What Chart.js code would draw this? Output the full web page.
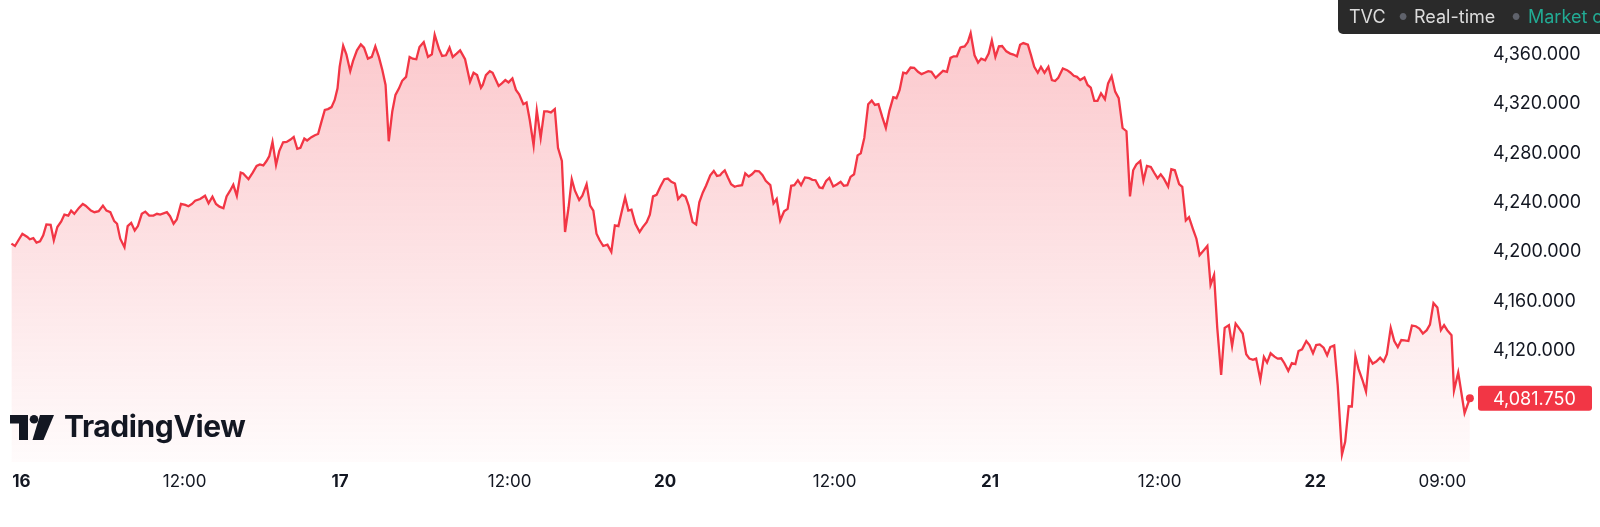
<!DOCTYPE html>
<html>
<head>
<meta charset="utf-8">
<script src="https://cdn.jsdelivr.net/npm/chart.js@4/dist/chart.umd.min.js"></script>
<style>
html,body{margin:0;padding:0;background:#fff;}
#wrap{position:relative;width:1600px;height:527px;overflow:hidden;background:#fff;}
canvas{display:block;}
#badge{position:absolute;left:1338px;top:0;width:300px;height:34px;background:#2a2a2a;border-bottom-left-radius:5px;font-family:Inter,"Noto Sans",sans-serif;font-size:18px;color:#dcdcdc;white-space:nowrap;}
#badge span{position:absolute;top:0;line-height:33px;}
#badge .sep{color:#5f626b;font-size:9px;}
#badge .green{color:#22ab94;}
#logo{position:absolute;left:10px;top:415px;height:25px;}
#logo svg{position:absolute;left:0;top:0;}
#logo span{position:absolute;left:54px;top:-9px;font-family:Inter,"Noto Sans",sans-serif;font-weight:700;font-size:30px;line-height:40px;color:#131722;letter-spacing:-0.4px;white-space:nowrap;}
</style>
</head>
<body>
<div id="wrap">
<canvas id="c" width="1600" height="527"></canvas>
<div id="badge">
  <span style="left:11px">TVC</span>
  <span class="sep" style="left:61px">●</span>
  <span style="left:76px">Real-time</span>
  <span class="sep" style="left:174px">●</span>
  <span class="green" style="left:190px">Market closed</span>
</div>
<div id="logo">
  <svg width="46" height="25" viewBox="0 0 46 25">
    <path d="M0 0H18V25H9V8.5H0Z" fill="#131722"/>
    <circle cx="24" cy="4.3" r="4.3" fill="#131722"/>
    <path d="M30 0H44L33.5 25H22.5Z" fill="#131722"/>
  </svg>
  <span>TradingView</span>
</div>
</div>
<script>
// Time position of each vertex, in 15-minute trading bars counted from 16 Oct 00:00
const bars = [
-1.0,0.0,2.1,3.5,4.2,5.2,6.1,7.1,8.0,8.9,10.1,11.0,12.0,13.1,14.0,15.1,15.9,16.8,18.1,19.2,20.0,21.5,22.5,23.7,24.9,25.9,27.0,28.1,28.9,29.8,31.0,31.9,32.9,33.9,34.8,35.9,36.9,38.0,39.2,40.2,41.1,43.0,43.9,44.9,45.8,47.0,48.2,49.1,50.1,51.0,52.4,53.8,54.8,55.9,56.9,57.9,59.0,59.9,60.9,61.8,62.8,63.9,
64.6,66.1,67.3,68.4,69.3,70.3,71.2,72.0,72.9,73.9,74.8,75.9,76.9,78.0,78.9,79.9,80.8,81.9,82.7,83.9,84.9,85.8,86.7,87.7,88.6,89.6,90.5,91.3,91.9,92.9,93.8,94.9,95.7,96.8,97.9,98.8,99.9,101.0,102.0,103.0,104.0,104.9,105.8,106.8,107.7,108.7,109.6,110.7,111.7,112.6,113.6,114.5,115.7,116.9,118.0,118.8,120.0,120.9,122.0,123.0,123.9,125.0,126.0,127.4,128.8,129.8,130.8,131.9,
132.4,133.3,134.4,135.2,136.9,137.8,138.8,139.7,140.8,141.8,142.7,143.9,144.8,145.7,146.8,147.7,148.8,149.8,150.7,151.7,152.8,153.7,154.8,155.7,156.7,157.6,158.5,159.7,160.6,161.8,162.8,163.7,164.6,165.5,166.5,167.7,168.8,169.8,170.8,171.7,172.7,173.6,174.5,175.6,176.8,177.7,178.8,179.7,180.6,181.6,182.7,183.8,184.8,185.8,186.8,187.7,188.8,189.8,190.7,191.8,192.8,193.7,194.7,195.6,196.8,197.8,198.7,199.6,
200.1,200.9,201.8,202.7,203.7,204.6,205.8,206.7,207.7,208.6,209.5,210.6,211.6,212.5,213.8,214.7,215.6,216.6,217.7,218.7,219.7,220.6,221.6,222.5,223.6,224.8,225.7,226.6,227.7,228.6,229.6,230.5,231.6,232.6,233.7,234.6,235.6,236.5,237.5,238.5,239.4,240.4,241.5,242.5,243.4,244.4,245.5,246.5,247.5,248.6,249.5,250.4,251.4,252.3,253.5,254.5,255.6,256.6,257.5,258.5,259.4,260.6,261.7,262.7,263.8,264.8,265.7,266.6,267.6,
267.9,268.8,269.7,270.5,271.6,272.6,273.5,274.6,275.6,276.5,277.5,278.5,279.4,280.6,281.7,282.6,283.6,284.5,285.4,286.7,287.6,288.5,289.5,290.4,291.4,292.5,293.5,294.4,295.3,296.6,297.8,298.7,299.7,300.6,301.5,302.7,303.6,304.5,305.5,306.4,307.4,308.5,309.4,310.4,311.4,312.4,313.5,314.6,315.6,316.5,317.4,318.5,319.4,320.4,321.5,322.4,323.4,324.3,325.2,326.4,327.3,328.3,329.5,330.4,331.4,332.3,333.4,334.4,335.3,
336.5,337.5,338.4,339.4,340.3,341.4,342.4,343.6,344.5,345.5,346.4,347.5,348.5,349.4,350.4,351.3,352.5,353.5,354.4,355.4,356.5,357.4,358.4,359.3,360.4,361.4,362.4,363.3,364.3,365.5,366.4,367.4,368.3,369.3,370.4,371.4,372.3,373.4,374.4,375.6,376.5,377.5,378.4,379.4,380.3,381.4,382.4,383.3,384.3,385.3,386.4,387.4,388.3,389.4,390.4,391.4,392.4,393.3,394.4,395.4,396.5,397.5,398.5,399.6,400.5,401.5,402.6,403.6,404.5,405.4,406.6,407.3,408.5,410.3,411.8
];
// Gold price (USD) at each vertex
const prices = [
4206.8,4204.9,4214.8,4212.2,4210.3,4211.3,4207.6,4208.7,4213.5,4222.3,4222.0,4209.5,4220.2,4224.7,4230.3,4229.5,4233.5,4230.9,4235.7,4238.9,4237.5,4233.5,4232.2,4233.0,4237.5,4233.5,4232.2,4225.0,4222.9,4210.8,4203.9,4221.0,4223.6,4217.5,4221.0,4230.9,4232.7,4229.5,4229.5,4230.9,4230.3,4232.2,4229.0,4222.9,4226.3,4238.9,4238.1,4237.0,4238.9,4241.5,4242.9,4245.5,4239.4,4244.8,4238.9,4236.7,4235.4,4245.0,4249.6,4254.4,4245.5,4264.3,
4263.6,4258.9,4264.3,4269.6,4270.9,4270.1,4273.6,4277.6,4289.1,4270.4,4281.6,4288.8,4289.1,4291.0,4293.1,4283.5,4284.3,4291.8,4290.2,4292.9,4294.5,4295.5,4304.9,4315.0,4315.6,4317.2,4323.0,4332.4,4349.8,4366.9,4359.9,4346.3,4354.6,4363.1,4367.9,4365.3,4356.4,4357.8,4366.3,4357.8,4347.1,4335.1,4289.6,4313.7,4327.1,4332.4,4338.5,4341.7,4357.8,4356.4,4355.9,4365.8,4369.8,4357.8,4359.9,4375.7,4364.5,4358.6,4359.1,4365.3,4357.8,4360.5,4363.1,4355.9,4337.7,4345.0,4343.1,4332.9,
4335.1,4343.1,4346.3,4345.0,4334.3,4336.4,4339.1,4337.2,4340.4,4331.1,4327.6,4319.6,4320.9,4307.0,4286.2,4314.5,4292.3,4313.7,4313.7,4312.9,4315.6,4284.3,4273.6,4216.2,4236.2,4258.9,4249.6,4242.1,4245.6,4254.9,4237.5,4233.5,4214.8,4209.5,4204.9,4206.0,4200.1,4221.5,4221.0,4232.2,4244.2,4233.5,4234.3,4222.8,4216.2,4220.2,4224.2,4230.3,4245.0,4246.3,4253.0,4258.9,4259.4,4256.8,4255.4,4242.9,4246.3,4244.8,4237.5,4224.2,4222.3,4240.2,4248.2,4253.6,4262.1,4265.6,4261.6,4262.1,
4264.0,4266.1,4260.3,4254.9,4252.8,4253.6,4254.1,4263.7,4261.1,4262.9,4265.6,4265.3,4262.1,4257.6,4254.1,4239.4,4242.9,4225.5,4233.0,4234.9,4253.6,4254.1,4258.1,4254.1,4260.3,4259.7,4258.4,4258.1,4252.2,4251.7,4257.6,4260.0,4253.0,4254.6,4256.8,4253.6,4254.1,4260.8,4262.9,4278.2,4279.8,4292.3,4319.6,4322.5,4319.0,4319.6,4309.1,4300.3,4314.2,4325.2,4324.4,4331.1,4345.0,4344.4,4349.2,4349.0,4345.8,4343.9,4345.0,4346.3,4345.8,4340.9,4343.9,4346.6,4345.8,4357.0,4358.3,4358.3,4365.3,
4365.8,4366.3,4369.8,4377.0,4359.1,4353.2,4356.4,4355.1,4360.5,4371.1,4357.8,4366.3,4366.6,4362.3,4360.5,4359.7,4358.3,4367.7,4369.0,4367.7,4359.1,4349.8,4345.0,4349.8,4345.0,4349.8,4339.1,4338.3,4340.9,4348.4,4347.1,4345.2,4342.5,4341.7,4339.1,4341.2,4335.1,4332.9,4322.2,4322.2,4328.4,4323.6,4336.4,4342.3,4329.7,4324.4,4300.3,4297.7,4245.0,4266.1,4270.9,4273.6,4257.6,4269.6,4268.8,4264.3,4259.7,4262.9,4259.4,4253.0,4266.9,4266.1,4254.9,4252.8,4225.5,4228.2,4218.8,4210.8,4197.5,
4201.5,4204.9,4173.4,4181.4,4138.7,4100.7,4138.7,4140.8,4124.0,4142.1,4138.7,4134.1,4117.3,4113.8,4112.8,4113.8,4096.7,4115.2,4110.6,4118.1,4115.4,4113.8,4114.1,4110.1,4103.9,4110.1,4109.3,4120.0,4121.3,4128.0,4124.8,4118.1,4124.8,4125.3,4122.6,4116.5,4123.2,4124.5,4091.9,4036.3,4046.5,4075.3,4075.1,4116.0,4105.3,4096.5,4087.1,4114.6,4109.8,4111.4,4114.6,4111.4,4117.3,4138.7,4128.0,4123.2,4128.8,4128.5,4128.0,4140.5,4140.0,4138.1,4134.1,4136.8,4141.3,4158.7,4155.2,4136.8,4140.8,4136.8,4132.8,4088.0,4102.6,4069.7,4081.75
];
const lastPrice = 4081.75;
// Time axis labels and their bar positions
const tickBars   = [1.8, 48, 92, 140, 184, 232, 276, 324, 368, 404];
const tickLabels = ['16','12:00','17','12:00','20','12:00','21','12:00','22','09:00'];
// Price axis labels
const priceTicks = [4120, 4160, 4200, 4240, 4280, 4320, 4360];

const fmt = v => v.toLocaleString('en-US', {minimumFractionDigits: 3, maximumFractionDigits: 3});
const points = bars.map((b, i) => ({x: b, y: prices[i]}));
const RED = '#F23645';
const FONT = 'Inter, "Noto Sans", sans-serif';

const priceLabel = {
  id: 'priceLabel',
  afterDraw(chart) {
    const {ctx, chartArea, scales} = chart;
    const y = scales.y.getPixelForValue(lastPrice);
    const x = chartArea.right;
    ctx.save();
    ctx.fillStyle = RED;
    ctx.beginPath();
    ctx.roundRect(x, y - 12.5, 114, 25, 3);
    ctx.fill();
    ctx.fillStyle = '#ffffff';
    ctx.font = '18px ' + FONT;
    ctx.textBaseline = 'middle';
    ctx.textAlign = 'left';
    ctx.fillText(fmt(lastPrice), x + 15, y + 1);
    ctx.restore();
  }
};

new Chart(document.getElementById('c'), {
  type: 'line',
  data: {
    datasets: [{
      data: points,
      borderColor: RED,
      borderWidth: 2.3,
      tension: 0,
      fill: 'start',
      backgroundColor: (c) => {
        const {ctx, chartArea} = c.chart;
        if (!chartArea) return 'rgba(242,54,69,0.1)';
        const g = ctx.createLinearGradient(0, chartArea.top, 0, chartArea.bottom);
        g.addColorStop(0, 'rgba(242,54,69,0.29)');
        g.addColorStop(1, 'rgba(242,54,69,0.02)');
        return g;
      },
      pointRadius: (c) => c.dataIndex === points.length - 1 ? 4 : 0,
      pointBackgroundColor: RED,
      pointBorderWidth: 0,
      pointHoverRadius: 0
    }]
  },
  options: {
    responsive: false,
    animation: false,
    events: [],
    layout: {padding: 0},
    plugins: {legend: {display: false}, tooltip: {enabled: false}},
    scales: {
      x: {
        type: 'linear',
        min: -3.1,
        max: 414.1,
        grid: {display: false, drawTicks: false},
        border: {display: false},
        afterBuildTicks: (s) => { s.ticks = tickBars.map(v => ({value: v})); },
        afterFit: (s) => { s.height = 65; s.paddingLeft = 0; s.paddingRight = 0; },
        ticks: {
          autoSkip: false,
          maxRotation: 0,
          padding: 10,
          color: '#131722',
          font: (c) => ({family: FONT, size: 17, weight: (tickLabels[c.index] || '').includes(':') ? '400' : '700'}),
          callback: (v, i) => tickLabels[i]
        }
      },
      y: {
        position: 'right',
        min: 4030.2,
        max: 4400.6,
        grid: {display: false, drawTicks: false},
        border: {display: false},
        afterBuildTicks: (s) => { s.ticks = priceTicks.map(v => ({value: v})); },
        afterFit: (s) => { s.width = 122; s.paddingTop = 0; s.paddingBottom = 0; },
        ticks: {
          padding: 15,
          color: '#131722',
          font: {family: FONT, size: 18},
          callback: (v) => fmt(v)
        }
      }
    }
  },
  plugins: [priceLabel]
});
</script>
</body>
</html>
